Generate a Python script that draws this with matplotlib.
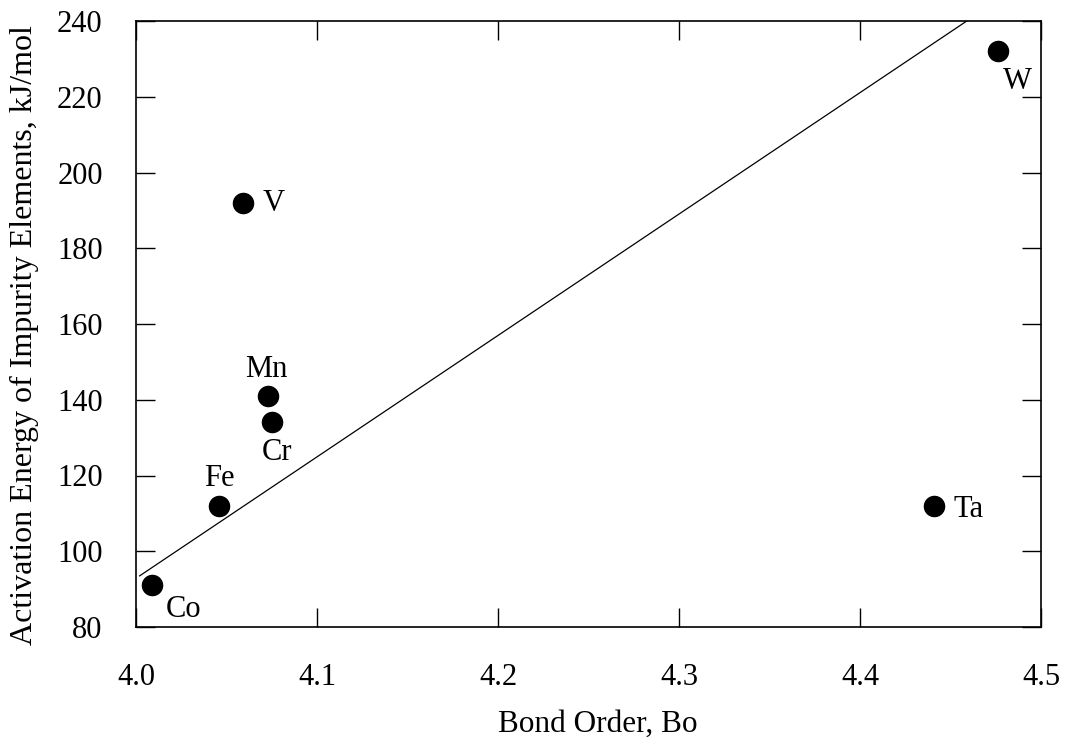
"""Activation energy of impurity elements vs bond order."""

import matplotlib.pyplot as plt

plt.rcParams["font.family"] = ["Liberation Serif", "DejaVu Serif"]

elements = ["Co", "Fe", "Mn", "Cr", "V", "Ta", "W"]
bond_order = [4.009, 4.046, 4.073, 4.075, 4.059, 4.441, 4.476]
activation_energy = [91, 112, 141, 134, 192, 112, 232]

fit_x = [4.002, 4.459]
fit_y = [93.5, 240.0]

# label offsets in points from the marker centre (dx, dy, ha, va)
label_pos = {
    "Co": (10, -7, "left", "top"),
    "Fe": (0, 14, "center", "baseline"),
    "Mn": (-1, 14, "center", "baseline"),
    "Cr": (4, -11, "center", "top"),
    "V": (14, -6, "left", "baseline"),
    "Ta": (14, -8, "left", "baseline"),
    "W": (4, -11.5, "left", "top"),
}

fig = plt.figure(figsize=(10.71, 7.42), dpi=100)
ax = fig.add_axes([136 / 1071, 1 - 627 / 742, (1041 - 136) / 1071, (627 - 21) / 742])

ax.plot(fit_x, fit_y, color="black", lw=0.9)
ax.scatter(bond_order, activation_energy, s=210, color="black", zorder=3)

for name, x, y in zip(elements, bond_order, activation_energy):
    dx, dy, ha, va = label_pos[name]
    ax.annotate(name, (x, y), xytext=(dx, dy), textcoords="offset points",
                ha=ha, va=va, fontsize=22)

ax.set_xlim(4.0, 4.5)
ax.set_ylim(80, 240)
ax.set_xticks([4.0, 4.1, 4.2, 4.3, 4.4, 4.5])
ax.set_xticklabels(["4.0", "4.1", "4.2", "4.3", "4.4", "4.5"])
ax.set_yticks(range(80, 241, 20))
ax.tick_params(direction="in", length=14, width=1.0, top=True, right=True,
               labelsize=22)
ax.tick_params(axis="x", pad=26)
ax.tick_params(axis="y", pad=24)
for spine in ax.spines.values():
    spine.set_linewidth(1.2)

ax.set_xlabel("Bond Order, Bo", fontsize=22.5)
ax.set_ylabel("Activation Energy of Impurity Elements, kJ/mol", fontsize=23)
ax.xaxis.set_label_coords(0.51, -0.137)
ax.yaxis.set_label_coords(-0.107, 0.482)

plt.savefig("out.png", dpi=100)
plt.close()
